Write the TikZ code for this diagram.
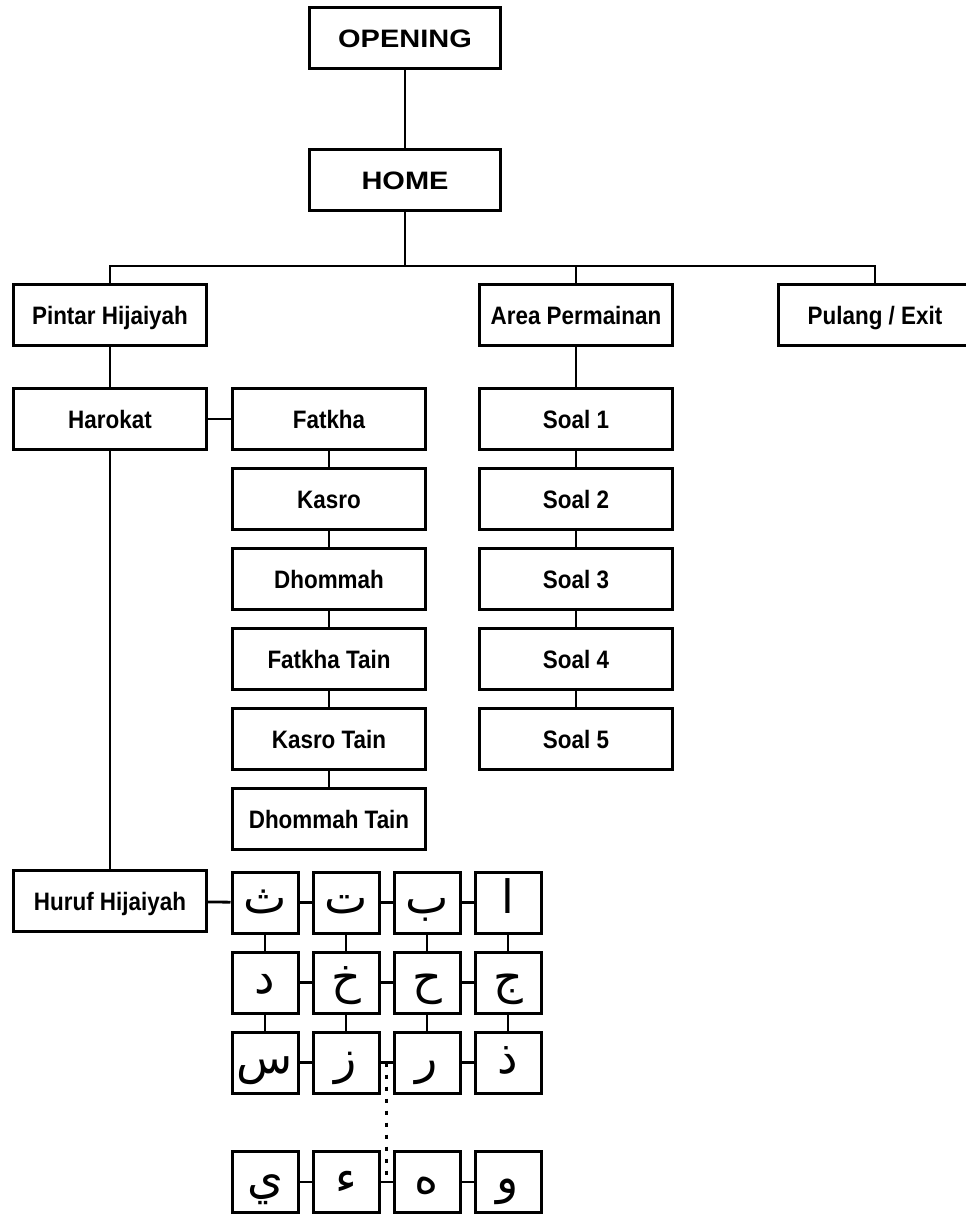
\documentclass[tikz,border=0pt]{standalone}
\usepackage{fontspec}
\setmainfont{Liberation Sans}
\newfontfamily\menufont{Liberation Sans}[FakeStretch=0.89]
\newfontfamily\topfont{Liberation Sans}[FakeStretch=1.15]
\newfontfamily\arabicfont[Script=Arabic]{DejaVu Sans}
\TeXXeTstate=1
\usetikzlibrary{positioning,calc}

\begin{document}
\begin{tikzpicture}[
    x=0.5pt, y=-0.5pt,
    node distance=8pt,
    menubox/.style={rectangle, draw, line width=1.5pt, minimum width=96.5pt, minimum height=30.5pt, inner sep=0pt, text height=9pt, text depth=0pt, font=\menufont\bfseries\fontsize{12.6}{15}\selectfont},
    topbox/.style={menubox, minimum width=95.5pt, font=\topfont\bfseries\fontsize{12.6}{15}\selectfont},
    letterbox/.style={rectangle, draw, line width=1.5pt, minimum width=33pt, minimum height=30.5pt, inner sep=0pt, text height=11pt, text depth=0pt, font=\arabicfont\fontsize{23}{25}\selectfont},
    link/.style={line width=1.4pt},
    dotlink/.style={line width=1.8pt, dash pattern=on 2pt off 4pt}
]
    \useasboundingbox (0,0) rectangle (965,1216);

    \node[topbox] (opening) at (405,38) {OPENING};
    \node[topbox, below=39pt of opening] (home) {HOME};

    \node[menubox] (pintar) at (110,315) {Pintar Hijaiyah};
    \node[menubox] (area) at (576,315) {Area Permainan};
    \node[menubox] (pulang) at (875,315) {Pulang / Exit};

    \node[menubox, below=20pt of pintar] (harokat) {Harokat};
    \node[menubox, right=11.5pt of harokat] (fatkha) {Fatkha};
    \node[menubox, below=of fatkha] (kasro) {Kasro};
    \node[menubox, below=of kasro] (dhommah) {Dhommah};
    \node[menubox, below=of dhommah] (fatkhatain) {Fatkha Tain};
    \node[menubox, below=of fatkhatain] (kasrotain) {Kasro Tain};
    \node[menubox, below=of kasrotain] (dhommahtain) {Dhommah Tain};

    \node[menubox, below=20pt of area] (soal1) {Soal 1};
    \node[menubox, below=of soal1] (soal2) {Soal 2};
    \node[menubox, below=of soal2] (soal3) {Soal 3};
    \node[menubox, below=of soal3] (soal4) {Soal 4};
    \node[menubox, below=of soal4] (soal5) {Soal 5};

    \node[menubox, below=209pt of harokat] (huruf) {Huruf Hijaiyah};

    \foreach \r/\y/\set in {1/902.5/{ث,ت,ب,ا}, 2/982.5/{د,خ,ح,ج}, 3/1062.5/{س,ز,ر,ذ}, 4/1182/{ي,ء,ه,و}}
        \foreach \ltr [count=\c] in \set
            \node[letterbox] (h\r\c) at ({265+81*(\c-1)},\y) {\beginR\ltr\endR};

    \coordinate (split) at ([yshift=-27pt]home.south);
    \coordinate (gapup) at ($(h32.east)!0.5!(h33.west)$);
    \coordinate (gapdown) at ($(h42.east)!0.5!(h43.west)$);

    \draw[link] (opening) -- (home);
    \draw[link] (home) -- (split);
    \draw[link] (split) -| (pintar);
    \draw[link] (split) -| (area);
    \draw[link] (split) -| (pulang);

    \draw[link] (pintar) -- (harokat);
    \draw[link] (harokat) -- (fatkha);
    \draw[link] (fatkha) -- (kasro);
    \draw[link] (kasro) -- (dhommah);
    \draw[link] (dhommah) -- (fatkhatain);
    \draw[link] (fatkhatain) -- (kasrotain);
    \draw[link] (kasrotain) -- (dhommahtain);

    \draw[link] (area) -- (soal1);
    \draw[link] (soal1) -- (soal2);
    \draw[link] (soal2) -- (soal3);
    \draw[link] (soal3) -- (soal4);
    \draw[link] (soal4) -- (soal5);

    \draw[link] (harokat) -- (huruf);
    \draw[link] (huruf) -- (h11);

    \foreach \r in {1,2,3,4}
        \foreach \c/\n in {1/2,2/3,3/4}
            \draw[link] (h\r\c.east) -- (h\r\n.west);
    \foreach \c in {1,2,3,4} {
        \draw[link] (h1\c.south) -- (h2\c.north);
        \draw[link] (h2\c.south) -- (h3\c.north);
    }
    \draw[dotlink] (gapup) -- (gapdown);
\end{tikzpicture}
\end{document}
